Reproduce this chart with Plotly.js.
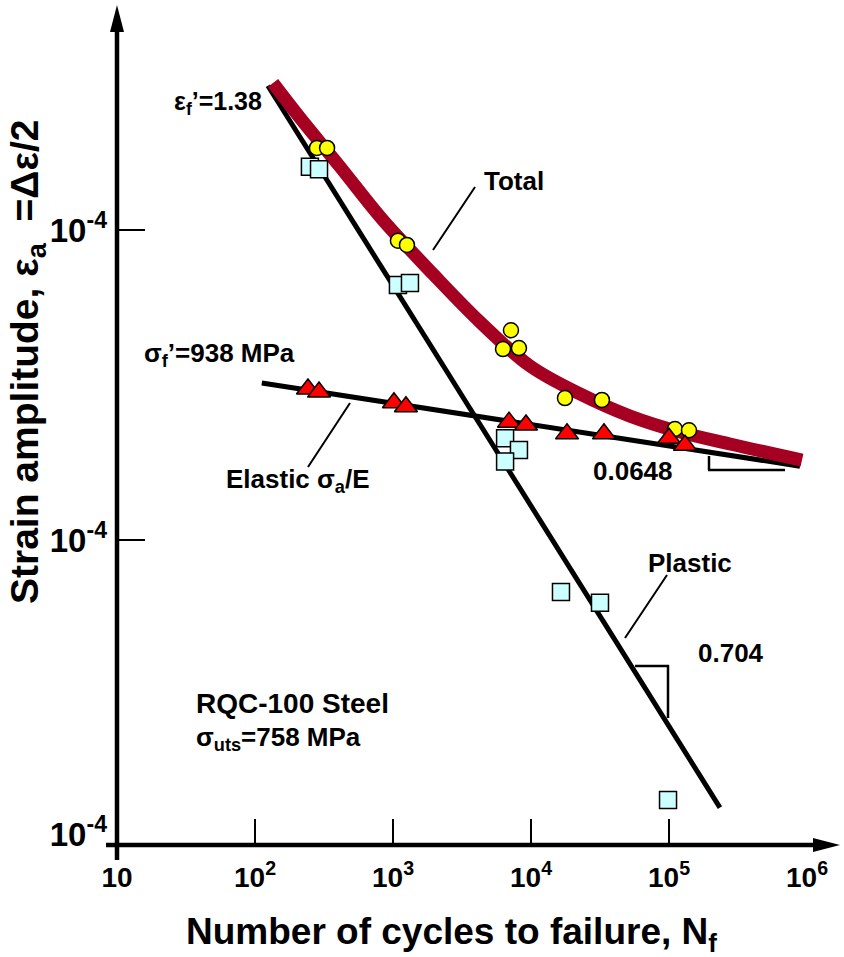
<!DOCTYPE html>
<html><head><meta charset="utf-8">
<script src="https://cdn.plot.ly/plotly-3.0.1.min.js"></script>
<style>html,body{margin:0;padding:0;background:#fff}#chart{width:844px;height:957px}</style>
</head><body><div id="chart"></div>
<script>
// ---------- data ----------
const totalCurveN      = [135, 212, 413, 832, 1950, 4270, 9840, 22650, 52200, 120100, 276700, 920000];
const totalCurveStrain = [0.0298, 0.0230, 0.0160, 0.01085, 0.00721, 0.00505, 0.00364, 0.00296, 0.00251, 0.00223, 0.00204, 0.00181];

const elasticLineN      = [112, 889000];
const elasticLineStrain = [0.00321, 0.00173];
const plasticLineN      = [124, 234000];
const plasticLineStrain = [0.0292, 0.000137];

const totalN      = [281, 333, 1086, 1262, 7160, 6270, 8180, 17620, 32650, 110400, 139600];
const totalStrain = [0.0184, 0.0184, 0.00923, 0.00895, 0.00475, 0.00413, 0.00416, 0.00287, 0.00283, 0.00228, 0.00226];

const elasticN      = [242, 291, 1016, 1241, 6930, 9200, 18240, 33800, 100000, 130600];
const elasticStrain = [0.00307, 0.00300, 0.00277, 0.00269, 0.00240, 0.00235, 0.00220, 0.00220, 0.00213, 0.00202];

const plasticN      = [250, 291, 1086, 1327, 6490, 8180, 6490, 16490, 31620, 98400];
const plasticStrain = [0.0160, 0.0157, 0.00665, 0.00675, 0.00213, 0.00195, 0.00179, 0.000679, 0.000627, 0.000145];

const xTickVals = [10, 100, 1000, 10000, 100000, 1000000];
const xTickText = ['10', '10<sup>2</sup>', '10<sup>3</sup>', '10<sup>4</sup>', '10<sup>5</sup>', '10<sup>6</sup>'];
const yTickVals = [1e-2, 1e-3, Math.pow(10, -3.95)];
const yTickText = ['10<sup>-4</sup>', '10<sup>-4</sup>', '10<sup>-4</sup>'];
const xTickMarks = [100, 1000, 10000, 100000];
const yTickMarks = [1e-2, 1e-3];

// ---------- layout helpers (pixel -> paper) ----------
const W = 844, H = 957, L = 117, R = 840, T = 5, B = 845;
const px = v => (v - L) / (R - L);
const py = v => (B - v) / (B - T);
const FONT = 'Liberation Sans, Arial, sans-serif';

const traces = [
  {x: plasticLineN, y: plasticLineStrain, mode: 'lines', line: {color: '#000', width: 5}},
  {x: elasticLineN, y: elasticLineStrain, mode: 'lines', line: {color: '#000', width: 5}},
  {x: totalCurveN, y: totalCurveStrain, mode: 'lines', line: {color: '#A50021', width: 13, shape: 'spline'}},
  {x: totalN, y: totalStrain, mode: 'markers', marker: {symbol: 'circle', size: 15, color: '#FFFF00', line: {color: '#000', width: 1.5}}},
  {x: elasticN, y: elasticStrain, mode: 'markers', marker: {symbol: 'triangle-up', size: 20, color: '#FF0000', line: {color: '#000', width: 1.5}}},
  {x: plasticN, y: plasticStrain, mode: 'markers', marker: {symbol: 'square', size: 17, color: '#CCFFFF', line: {color: '#000', width: 1.5}}}
];

const shapes = [];
const line = (x0, y0, x1, y1, w) => shapes.push({type: 'line', xref: 'paper', yref: 'paper',
  x0: px(x0), y0: py(y0), x1: px(x1), y1: py(y1), line: {color: '#000', width: w}});
// axes
line(117, 860, 117, 26, 4.5);
line(106, 845, 818, 845, 4.5);
shapes.push({type: 'path', xref: 'paper', yref: 'paper', xsizemode: 'pixel', ysizemode: 'pixel',
  xanchor: 0, yanchor: 1, path: 'M0,0 L-7,-27 L7,-27 Z', fillcolor: '#000', line: {width: 0}});
shapes.push({type: 'path', xref: 'paper', yref: 'paper', xsizemode: 'pixel', ysizemode: 'pixel',
  xanchor: 1, yanchor: 0, path: 'M0,0 L-27,7 L-27,-7 Z', fillcolor: '#000', line: {width: 0}});
// tick marks
xTickMarks.forEach(v => shapes.push({type: 'line', xref: 'x', yref: 'paper', x0: v, x1: v, y0: 0, y1: 26 / (B - T), line: {color: '#000', width: 2}}));
yTickMarks.forEach(v => shapes.push({type: 'line', xref: 'paper', yref: 'y', x0: 0, x1: 28 / (R - L), y0: v, y1: v, line: {color: '#000', width: 2}}));
// leaders
line(308, 467, 350, 403, 2);
line(475, 187, 433, 250, 2);
line(667, 575, 625, 638, 2);
// slope triangles
line(709, 456, 709, 470, 2.5);
line(708, 470, 785, 470, 2.5);
line(635, 666, 669, 666, 2.5);
line(668, 665, 668, 718, 2.5);

const ann = (text, x, y, xanchor, size, extra) => Object.assign({
  text, xref: 'paper', yref: 'paper', x: px(x), y: py(y), xanchor, yanchor: 'middle', showarrow: false,
  font: {family: FONT, size, color: '#000', weight: 'bold'}
}, extra || {});

const annotations = [
  ann('ε<sub>f</sub>’=1.38', 264, 103, 'right', 25),
  ann('σ<sub>f</sub>’=938 MPa', 142, 355, 'left', 26),
  ann('Elastic σ<sub>a</sub>/E', 224, 480, 'left', 26),
  ann('Total', 482, 181, 'left', 26),
  ann('0.0648', 591, 471, 'left', 26),
  ann('Plastic', 646, 563, 'left', 26),
  ann('0.704', 696, 653, 'left', 26),
  ann('RQC-100 Steel', 194, 703, 'left', 28),
  ann('σ<sub>uts</sub>=758 MPa', 194, 738, 'left', 26),
  ann('Number of cycles to failure, N<sub>f</sub>', 451, 934, 'center', 37),
  ann('Strain amplitude, ε<sub>a</sub>\u00A0 =Δε/2', 27, 362, 'center', 39, {textangle: -90})
];

const layout = {
  width: W, height: H,
  margin: {l: L, r: W - R, t: T, b: H - B, pad: 0},
  paper_bgcolor: '#fff', plot_bgcolor: '#fff',
  showlegend: false,
  xaxis: {type: 'log', range: [1, 1 + (R - L) / 138], showgrid: false, zeroline: false, showline: false,
    ticks: '', tickvals: xTickVals, ticktext: xTickText, ticklabelstandoff: 13,
    tickfont: {family: FONT, size: 28, color: '#000', weight: 'bold'}},
  yaxis: {type: 'log', range: [-3 - (B - 540) / 310, -3 + (540 - T) / 310], showgrid: false, zeroline: false, showline: false,
    ticks: '', tickvals: yTickVals, ticktext: yTickText, ticklabelstandoff: 9,
    tickfont: {family: FONT, size: 33, color: '#000', weight: 'bold'}},
  shapes, annotations
};

Plotly.newPlot('chart', traces, layout, {staticPlot: true, displayModeBar: false});
</script></body></html>
